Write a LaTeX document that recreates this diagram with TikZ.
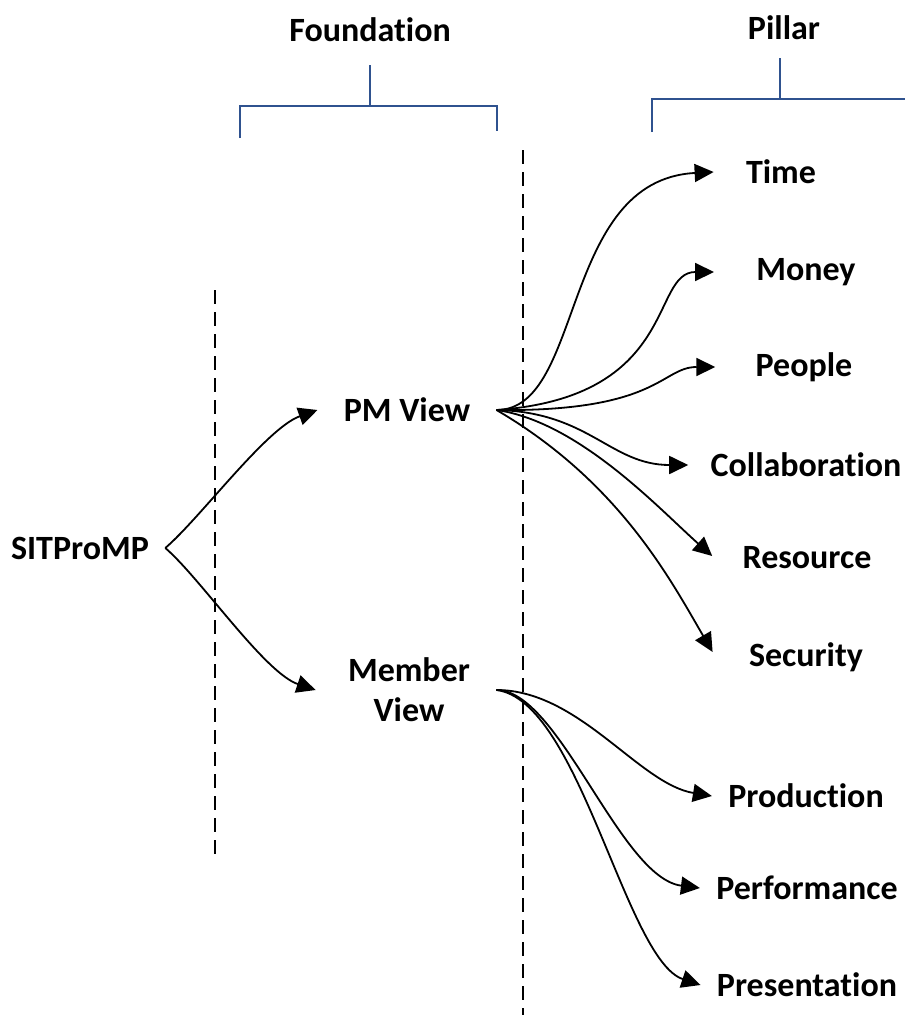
\documentclass[tikz,border=0pt]{standalone}
\usepackage{fontspec}
\setmainfont{Carlito}[Ligatures={NoCommon,NoContextual,NoRequired}]
\usetikzlibrary{arrows.meta}
\definecolor{brk}{RGB}{47,82,143}

\begin{document}
\begin{tikzpicture}[
		x=0.5pt, y=-0.5pt,
		every node/.style={font=\fontsize{17}{20}\selectfont\bfseries, inner xsep=8pt, inner ysep=2pt, align=center},
		conn/.style={draw, line width=0.9pt, -{Triangle[length=9.5pt,width=9pt]}},
		bracket/.style={draw=brk, line width=1.1pt},
		divider/.style={draw, line width=0.9pt, dash pattern=on 7pt off 4pt}
		]
		\useasboundingbox (0,0) rectangle (905,1023);
		% titles and brackets
		\node (found) at (370,30) {Foundation};
		\node (pillar) at (784,28) {Pillar};
		\draw[bracket] (240,138) -- (240,106) -- (497,106) -- (497,131);
		\draw[bracket] (370,65) -- (370,106);
		\draw[bracket] (652,132) -- (652,99) -- (905,99);
		\draw[bracket] (780,58) -- (780,99);
		% dashed dividers
		\draw[divider] (215,290) -- (215,858);
		\draw[divider] (523,150) -- (523,1015);
		% nodes
		\node (sit) at (80,548) {SITProMP};
		\node (pm) at (407,410) {PM View};
		\node (mem) at (409,690) {Member\\View};
		\node (time) at (781,172) {Time};
		\node (money) at (806,272) {Money};
		\node (people) at (804,367) {People};
		\node (collab) at (806,465) {Collaboration};
		\node (res) at (807,558) {Resource};
		\node (sec) at (806,657) {Security};
		\node (prod) at (806,796) {Production};
		\node (perf) at (807,888) {Performance};
		\node (pres) at (807,985) {Presentation};
		% foundation
		\draw[conn] (sit.east) .. controls +(35,-30) and +(-51,18) .. ([xshift=-5pt]pm.west);
		\draw[conn] (sit.east) .. controls +(35,30) and +(-51,-17) .. ([xshift=-8pt]mem.west);
		% pillars of PM View
		\draw[conn] ([xshift=5pt]pm.east) .. controls +(88,0) and +(-154,8) .. ([xshift=-8pt]time.west);
		\draw[conn] ([xshift=5pt]pm.east) .. controls +(183,-13) and +(-64,0) .. ([xshift=-13pt]money.west);
		\draw[conn] ([xshift=5pt]pm.east) .. controls +(163,2) and +(-54,0) .. ([xshift=-12pt]people.west);
		\draw[conn] ([xshift=5pt]pm.east) .. controls +(93,2) and +(-78,0) .. ([xshift=-3pt]collab.west);
		\draw[conn] ([xshift=5pt]pm.east) .. controls +(83,12) and +(-52,-46) .. ([xshift=-7pt,yshift=1pt]res.west);
		\draw[conn] ([xshift=5pt]pm.east) .. controls +(123,72) and +(-42,-72) .. ([xshift=-10pt,yshift=2.5pt]sec.west);
		% pillars of Member View
		\draw[conn] ([xshift=5pt]mem.east) .. controls +(83,0) and +(-73,-12) .. (prod.west);
		\draw[conn] ([xshift=5pt]mem.east) .. controls +(63,0) and +(-80,-10) .. (perf.west);
		\draw[conn] ([xshift=5pt]mem.east) .. controls +(83,10) and +(-75,-25) .. (pres.west);
\end{tikzpicture}
\end{document}
